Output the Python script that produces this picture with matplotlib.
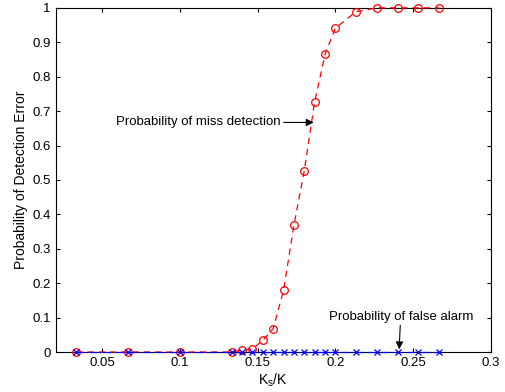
import matplotlib
matplotlib.use("Agg")
import matplotlib.pyplot as plt
import numpy as np

plt.rcParams['font.family'] = ['Liberation Sans', 'DejaVu Sans']

# Ks/K values (K = 150)
ks_miss = np.array([5, 10, 15, 20, 21, 22, 23, 24, 25, 26, 27, 28, 29, 30,
                    32, 34, 36, 38, 40]) / 150.0
p_miss = [0, 0, 0, 0, 0.006, 0.009, 0.034, 0.068, 0.179, 0.369, 0.527,
          0.727, 0.865, 0.941, 0.989, 1.0, 1.0, 1.0, 1.0]

ks_fa = np.array([5, 10, 15, 20, 21, 22, 23, 24, 25, 26, 27, 28, 29, 30,
                  32, 34, 36, 38, 40]) / 150.0
p_fa = [0] * len(ks_fa)

xticks = [0.05, 0.1, 0.15, 0.2, 0.25, 0.3]
xticklabels = ['0.05', '0.1', '0.15', '0.2', '0.25', '0.3']
yticks = [0, 0.1, 0.2, 0.3, 0.4, 0.5, 0.6, 0.7, 0.8, 0.9, 1]
yticklabels = ['0', '0.1', '0.2', '0.3', '0.4', '0.5', '0.6', '0.7', '0.8', '0.9', '1']

fig = plt.figure(figsize=(5.05, 3.92), dpi=100)
ax = fig.add_axes([0.110, 0.102, 0.862, 0.878])

ax.plot(ks_miss, p_miss, 'r--o', mfc='none', ms=5.5, lw=0.9, mew=0.9, dashes=(5, 4),
        clip_on=False, zorder=3)
ax.plot(ks_fa, p_fa, 'b-.x', ms=4, lw=0.9, mew=0.9, clip_on=False, zorder=4)

ax.set_xlim(0.02, 0.3)
ax.set_ylim(0, 1)
ax.set_xticks(xticks)
ax.set_xticklabels(xticklabels)
ax.set_yticks(yticks)
ax.set_yticklabels(yticklabels)
ax.tick_params(direction='in', top=True, right=True, labelsize=9.5, length=3, width=0.8)
for s in ax.spines.values():
    s.set_linewidth(0.8)

ax.set_xlabel('K$_\\mathregular{s}$/K', fontsize=10, labelpad=2)
ax.set_ylabel('Probability of Detection Error', fontsize=10, labelpad=3)

ax.annotate('Probability of miss detection', xy=(0.186, 0.667), xytext=(0.165, 0.667),
            ha='right', va='center', fontsize=9.5,
            arrowprops=dict(arrowstyle='-|>', color='k', lw=0.8, shrinkA=0, shrinkB=0,
                            mutation_scale=11))
ax.annotate('Probability of false alarm', xy=(0.241, 0.008), xytext=(0.242, 0.103),
            ha='center', va='center', fontsize=9.5,
            arrowprops=dict(arrowstyle='-|>', color='k', lw=0.8, shrinkA=0, shrinkB=0,
                            mutation_scale=11))

fig.savefig('out.png', dpi=100)
